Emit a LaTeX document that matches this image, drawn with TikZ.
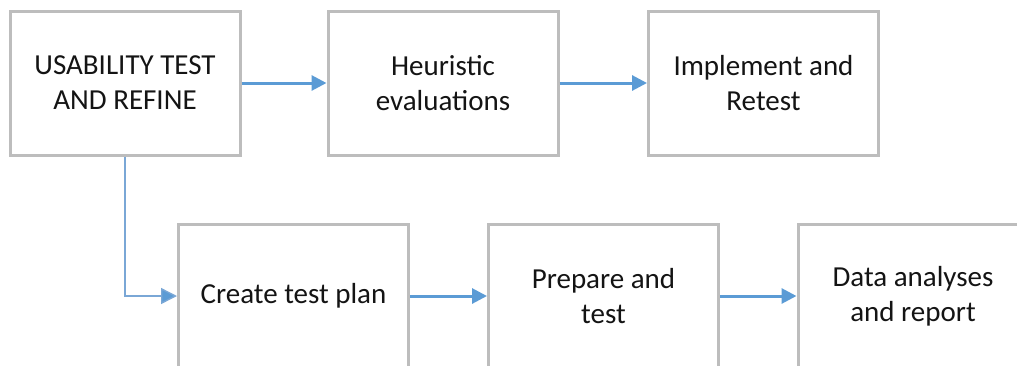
\documentclass[tikz,border=0pt]{standalone}
\usepackage{fontspec}
\setmainfont{Carlito}
\usetikzlibrary{arrows.meta}
\definecolor{boxline}{HTML}{BDBDBD}
\definecolor{flow}{HTML}{5B9BD5}
\definecolor{elbowblue}{HTML}{7AA7D6}
\begin{document}
\begin{tikzpicture}[x=1pt,y=-1pt,
  stage/.style={draw=boxline, line width=3pt, fill=white,
    minimum width=230pt, minimum height=144pt, inner sep=0pt,
    align=center, font=\fontsize{29}{35}\selectfont, text=black!92},
  flowarrow/.style={draw=flow, line width=3pt,
    -{Triangle[length=15pt,width=15pt]}},
  elbowarrow/.style={draw=elbowblue, line width=1.4pt,
    -{Triangle[length=16pt,width=16pt,fill=flow]}}]
\clip (0,0) rectangle (1017,365);

% upper row
\node[stage] (usab) at (125,83) {USABILITY TEST\\AND REFINE};
\node[stage] (heur) at (443,83) {Heuristic\\evaluations};
\node[stage] (impl) at (763.5,83) {Implement and\\Retest};

% lower row
\node[stage] (plan) at (293.5,296) {Create test plan};
\node[stage] (prep) at (603.5,296) {Prepare and\\test};
\node[stage] (data) at (913,296) {Data analyses\\and report};

% connectors
\draw[flowarrow] (usab.east) -- (heur.west);
\draw[flowarrow] (heur.east) -- (impl.west);
\draw[elbowarrow] (usab.south) |- (plan.west);
\draw[flowarrow] (plan.east) -- (prep.west);
\draw[flowarrow] (prep.east) -- (data.west);
\end{tikzpicture}
\end{document}
